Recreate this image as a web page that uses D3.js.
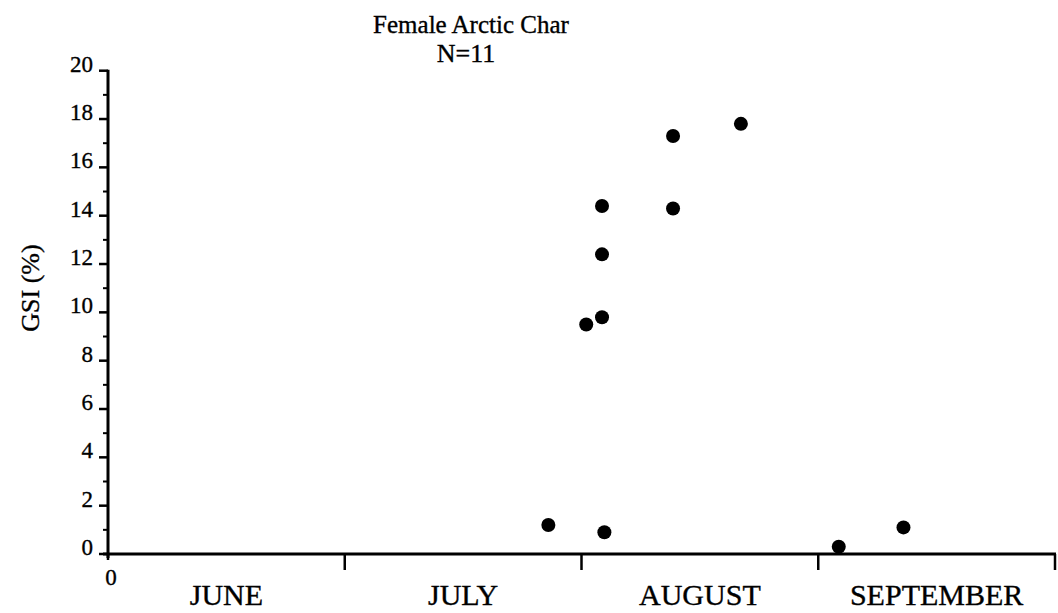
<!DOCTYPE html>
<html>
<head>
<meta charset="utf-8">
<script src="https://cdn.jsdelivr.net/npm/d3@7"></script>
<style>
  body { margin: 0; background: #fff; }
</style>
</head>
<body>
<svg id="chart" width="1058" height="613" font-family="'Liberation Serif', 'DejaVu Serif', serif"></svg>
<script>
// Season runs June–September; x is days since 1 June (30-day month blocks)
const monthNames = ["JUNE", "JULY", "AUGUST", "SEPTEMBER"];
const monthEdges = [0, 30, 60, 90, 120];
const sampleDay = [55.8, 60.6, 62.6, 62.6, 62.6, 62.9, 71.6, 71.6, 80.2, 92.6, 100.8];
const gsiValue  = [1.2, 9.5, 9.8, 12.4, 14.4, 0.9, 17.3, 14.3, 17.8, 0.3, 1.1];
const yMajorTicks = [0, 2, 4, 6, 8, 10, 12, 14, 16, 18, 20];
const yMinorTicks = [1, 3, 5, 7, 9, 11, 13, 15, 17, 19];
const titleText = "Female Arctic Char";
const countText = "N=11";
const yLabel = "GSI (%)";

const serif = "'Liberation Serif', 'DejaVu Serif', serif";
const svg = d3.select("#chart");
const plotLeft = 108, plotRight = 1055, plotTop = 70.7, plotBottom = 554;

const x = d3.scaleLinear().domain([0, 120]).range([plotLeft, plotRight]);
const y = d3.scaleLinear().domain([0, 20]).range([plotBottom, plotTop]);

// Slightly heavy serif type throughout
function label(sel) {
  return sel.attr("font-family", serif).attr("fill", "#000")
    .attr("stroke", "#000").attr("stroke-width", 0.35);
}

// Title and sample size
label(svg.append("text")).attr("x", 471).attr("y", 33).attr("text-anchor", "middle")
  .attr("font-size", 25).text(titleText);
label(svg.append("text")).attr("x", 466).attr("y", 62).attr("text-anchor", "middle")
  .attr("font-size", 26).text(countText);

// Y axis: major ticks with labels, minor ticks between
const yAxis = svg.append("g").attr("transform", `translate(${plotLeft},0)`);
yAxis.append("line").attr("x1", 0).attr("x2", 0).attr("y1", y(20) - 1).attr("y2", y(0) + 4)
  .attr("stroke", "#000").attr("stroke-width", 3);
yAxis.selectAll(".major").data(yMajorTicks).join("line")
  .attr("x1", -9).attr("x2", 0).attr("y1", d => y(d)).attr("y2", d => y(d))
  .attr("stroke", "#000").attr("stroke-width", 2.5);
yAxis.selectAll(".minor").data(yMinorTicks).join("line")
  .attr("x1", -5).attr("x2", 0).attr("y1", d => y(d)).attr("y2", d => y(d))
  .attr("stroke", "#000").attr("stroke-width", 2);
label(yAxis.selectAll(".ylab").data(yMajorTicks).join("text"))
  .attr("x", -15).attr("y", d => y(d) + 1).attr("text-anchor", "end")
  .attr("font-size", 23).text(d => d);

// Y axis title
label(svg.append("text")).attr("transform", `translate(39,288) rotate(-90)`)
  .attr("text-anchor", "middle").attr("font-size", 26).text(yLabel);

// X axis: month boundary ticks and centred month names
const xAxis = svg.append("g");
xAxis.append("line").attr("x1", x(0) - 5).attr("x2", x(120) + 1)
  .attr("y1", plotBottom).attr("y2", plotBottom).attr("stroke", "#000").attr("stroke-width", 3);
xAxis.selectAll(".xtick").data(monthEdges.slice(1)).join("line")
  .attr("x1", d => x(d)).attr("x2", d => x(d)).attr("y1", plotBottom).attr("y2", plotBottom + 16)
  .attr("stroke", "#000").attr("stroke-width", 2.5);
xAxis.append("line").attr("x1", x(0)).attr("x2", x(0)).attr("y1", plotBottom).attr("y2", plotBottom + 6)
  .attr("stroke", "#000").attr("stroke-width", 2.5);
label(xAxis.append("text")).attr("x", x(0) + 3).attr("y", 585).attr("text-anchor", "middle")
  .attr("font-size", 23).text("0");
label(xAxis.selectAll(".month").data(monthNames).join("text"))
  .attr("x", (d, i) => x((monthEdges[i] + monthEdges[i + 1]) / 2))
  .attr("y", 605).attr("text-anchor", "middle").attr("font-size", 30).text(d => d);

// Individual fish
svg.append("g").selectAll("circle").data(sampleDay).join("circle")
  .attr("cx", d => x(d)).attr("cy", (d, i) => y(gsiValue[i])).attr("r", 7).attr("fill", "#000");
</script>
</body>
</html>
